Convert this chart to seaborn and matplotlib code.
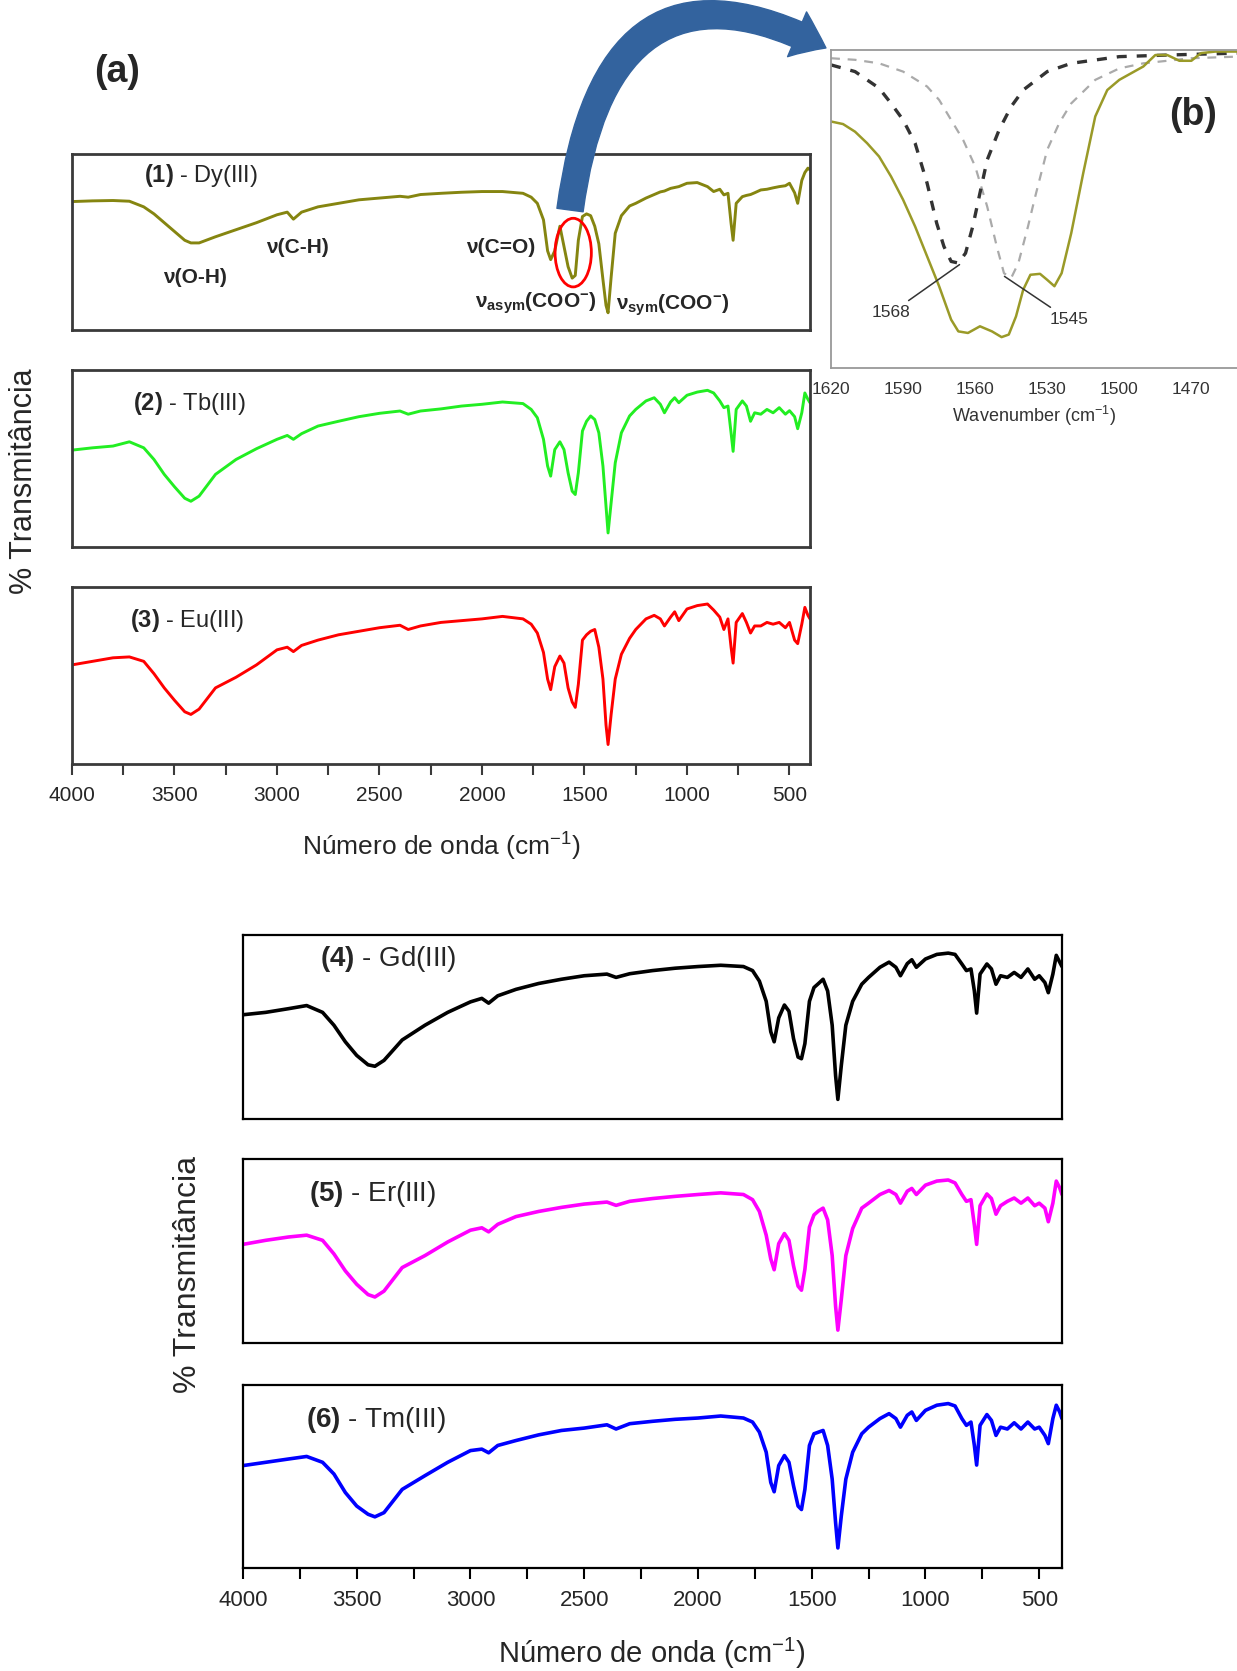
import matplotlib
matplotlib.use("Agg")
import matplotlib.pyplot as plt
import matplotlib.patches as mpatches
from matplotlib.path import Path
from matplotlib.ticker import MultipleLocator
import seaborn as sns

# DATA (transmittance as % of panel height)

WAVENUMBER = [
    4000, 3900, 3800, 3720, 3650, 3600, 3550, 3500, 3450, 3420,
    3380, 3300, 3200, 3100, 3000, 2950, 2920, 2880, 2800, 2700,
    2600, 2500, 2400, 2360, 2300, 2200, 2100, 2000, 1900, 1800,
    1760, 1730, 1700, 1680, 1665, 1645, 1620, 1600, 1580, 1560,
    1545, 1530, 1510, 1490, 1470, 1450, 1430, 1410, 1395, 1385,
    1370, 1350, 1320, 1280, 1250, 1200, 1160, 1130, 1110, 1080,
    1060, 1040, 1000, 950, 900, 870, 840, 820, 800, 785,
    775, 760, 730, 710, 690, 670, 640, 610, 580, 550,
    520, 500, 475, 460, 440, 425, 410, 400,
]

DY = [
    73, 73.4, 73.6, 73.2, 70, 66, 61, 56, 51, 49.5,
    49.5, 53, 57, 61, 65.5, 67, 63, 67, 70, 72,
    74, 75, 76, 75.5, 77, 77.7, 78.3, 78.7, 78.7, 77.7,
    75.5, 72, 62.6, 45, 40, 45, 59, 47.5, 36, 29.5,
    31, 51, 64.5, 66, 65, 59, 49, 28.7, 14, 9.8,
    30, 55, 65, 70.5, 72, 75, 77, 78.5, 79, 80.5,
    81, 81.5, 83.4, 83.8, 81.5, 78.7, 80, 76.8, 77.7, 60.7,
    51, 72, 75.8, 76.5, 77, 78, 79.6, 80, 80.8, 81.5,
    82, 83.4, 78, 72, 85, 89.5, 92, 91,
]

TB = [
    54.7, 56, 57, 59.4, 56, 49.4, 41, 34, 27.5, 25.8,
    28.7, 41, 49.4, 55.5, 60.8, 63, 60.8, 64, 68.3, 71,
    73.6, 75.5, 76.8, 75, 76.8, 78, 79.6, 80.6, 81.9, 81,
    77.7, 73, 60.8, 45.7, 40, 55, 59.4, 55, 41.9, 31.5,
    29.6, 41.9, 65.5, 71, 74, 72, 64.5, 45.7, 23, 7.9,
    25, 47.5, 64.5, 74, 77.7, 82.5, 84.3, 80.6, 75.8, 81.9,
    84.3, 81.5, 85.7, 87.5, 88.5, 87, 82.5, 78.7, 79.6, 64.5,
    54, 77.7, 82.5, 79.6, 71, 75.8, 75, 77.7, 75.8, 78.7,
    75, 77, 73.6, 66.8, 75.8, 87, 83.4, 81.5,
]

EU = [
    56, 58, 60, 60.5, 58, 51, 43, 36, 29.5, 28,
    31, 43, 49, 56, 64.5, 66, 63.5, 67, 70, 73,
    75, 77, 78.4, 76, 78, 80, 81, 82, 83.4, 82,
    79, 74, 63, 48, 42, 55, 61, 57, 43, 35,
    32, 45, 70, 73, 75, 76, 66, 48, 22, 11,
    28, 48, 62, 71, 76, 82, 84, 82, 78, 83,
    86, 81, 87.6, 89.5, 90.4, 87, 83, 76, 82, 66,
    57, 80, 85, 80, 74, 78, 78, 80, 79, 80,
    77, 80, 70, 68, 79, 88.5, 84, 82,
]

GD = [
    56.7, 58, 60, 61.7, 58, 51, 42, 34.6, 29.5, 28.7,
    31.9, 43, 51, 58, 63.7, 65.6, 63, 67, 70.5, 73.7,
    76, 77.9, 78.8, 77, 79, 80.7, 82, 82.9, 83.6, 82.9,
    80.7, 75, 64, 47.5, 42, 55, 62, 58.6, 43.8, 33.7,
    32.8, 41, 64, 71.5, 73.7, 76, 69.6, 51, 23.6, 10.7,
    29, 51, 64, 73.3, 77, 82.5, 85.3, 82.5, 77.9, 84.5,
    86.6, 82.5, 87, 89.5, 90.2, 89.5, 84.3, 80.7, 81.6, 69.6,
    57.6, 78.8, 84.3, 81.6, 73.3, 77.9, 77, 79.7, 77, 81.6,
    76, 77.9, 74.2, 68.7, 78.8, 89, 85.3, 82.9,
]

ER = [
    53.6, 55.8, 57.6, 58.6, 55.8, 48.4, 39.2, 31.9, 26.3, 25,
    28.2, 41, 47.5, 54.9, 61.3, 62.6, 60.4, 64.5, 68.7, 71.5,
    73.7, 75.5, 76.6, 74.8, 77, 78.5, 79.7, 80.7, 81.6, 80.7,
    77.9, 71.5, 58.6, 45.7, 39.8, 54, 59.5, 55.8, 42, 30.9,
    28.7, 40, 63, 69.6, 71.8, 73.3, 66.9, 47.5, 19.9, 7,
    23.6, 47.5, 62.2, 73.3, 76, 80.7, 82.9, 80.7, 76, 82.5,
    84, 80.7, 85.8, 88, 88.6, 87, 80.7, 77, 77.9, 64,
    53.6, 74.6, 81, 78.5, 70, 74.6, 77, 78.8, 76, 78.8,
    74.6, 76, 73.3, 65.9, 76, 88, 84.3, 80.7,
]

TM = [
    56, 57.8, 59.6, 61, 57.8, 51.4, 41.3, 33.9, 29.4, 28,
    30.3, 43, 50.5, 57.8, 64.2, 65, 63, 67, 69.7, 72.8,
    75.2, 76.5, 78.3, 76, 78.9, 80.2, 81.3, 82, 83.1, 82,
    79.8, 74.3, 63.3, 46.8, 41.7, 56, 61.5, 57.8, 45, 33.9,
    32, 43, 67, 73.4, 74.3, 75.2, 67, 48.6, 24.8, 11,
    28.4, 48.6, 63.3, 73.4, 77, 81.7, 84.4, 81.7, 77, 83.5,
    85.3, 80.7, 86.2, 89, 89.9, 88.6, 81.7, 78, 79.8, 67,
    56.3, 78, 83.9, 80.7, 72.5, 77, 76, 79.4, 76, 79.8,
    76, 77, 72.5, 68, 81.7, 89, 85.3, 81.7,
]

# inset (b): zoom on the COO- band of Dy(III), fraction of inset height
INSET_WN = [
    1620, 1615, 1610, 1605, 1600, 1595, 1590, 1585, 1580, 1575,
    1570, 1567, 1563, 1558, 1553, 1549, 1546, 1543, 1540, 1537,
    1533, 1530, 1527, 1524, 1520, 1515, 1510, 1505, 1500, 1495,
    1490, 1485, 1480, 1475, 1470, 1466, 1460, 1451,
]
INSET_DY = [
    0.775, 0.767, 0.743, 0.707, 0.665, 0.602, 0.529, 0.445, 0.351, 0.257,
    0.152, 0.115, 0.11, 0.131, 0.115, 0.097, 0.105, 0.162, 0.246, 0.293,
    0.296, 0.277, 0.257, 0.298, 0.424, 0.613, 0.791, 0.874, 0.906, 0.927,
    0.948, 0.984, 0.984, 0.966, 0.966, 0.99, 0.995, 0.995,
]

FIT1_WN = [1620, 1610, 1600, 1595, 1590, 1585, 1580, 1576, 1573, 1570, 1567, 1564,
           1561, 1558, 1555, 1550, 1545, 1540, 1530, 1520, 1500, 1480, 1451]
FIT1 = [0.953, 0.932, 0.88, 0.832, 0.78, 0.707, 0.581, 0.455, 0.382, 0.335, 0.33, 0.361,
        0.445, 0.55, 0.654, 0.749, 0.822, 0.874, 0.932, 0.958, 0.979, 0.984, 0.99]

FIT2_WN = [1620, 1610, 1600, 1590, 1580, 1575, 1570, 1565, 1560, 1555, 1551, 1548,
           1545, 1542, 1538, 1535, 1530, 1525, 1520, 1510, 1500, 1490, 1470, 1451]
FIT2 = [0.974, 0.969, 0.958, 0.932, 0.885, 0.843, 0.78, 0.717, 0.634, 0.508, 0.382, 0.298,
        0.283, 0.33, 0.445, 0.539, 0.686, 0.77, 0.832, 0.906, 0.942, 0.958, 0.974, 0.979]

PEAKS = [1568, 1545]

# FIGURE

sns.set_style("white")
plt.rcParams["font.family"] = ["Liberation Sans", "DejaVu Sans"]
plt.rcParams["mathtext.fontset"] = "custom"
plt.rcParams["mathtext.rm"] = "Liberation Sans"
plt.rcParams["mathtext.bf"] = "Liberation Sans:bold"
plt.rcParams["mathtext.it"] = "Liberation Sans:italic"

fig = plt.figure(figsize=(12.37, 16.71), dpi=100)


def spectrum_panel(rect, values, color, label, label_pos, lw, frame, frame_lw,
                   label_size, with_ticks=False, tick_size=15):
    ax = fig.add_axes(rect)
    sns.lineplot(x=WAVENUMBER, y=values, ax=ax, color=color, linewidth=lw,
                 estimator=None, sort=False)
    ax.set_xlim(4000, 400)
    ax.set_ylim(0, 100)
    ax.set_xlabel("")
    ax.set_ylabel("")
    ax.set_yticks([])
    for s in ax.spines.values():
        s.set_color(frame)
        s.set_linewidth(frame_lw)
    if with_ticks:
        ax.xaxis.set_major_locator(MultipleLocator(500))
        ax.xaxis.set_minor_locator(MultipleLocator(250))
        ax.tick_params(axis="x", which="both", direction="out", length=8,
                       width=1.5, color=frame, labelsize=tick_size, pad=8,
                       bottom=True)
    else:
        ax.set_xticks([])
    ax.text(label_pos[0], label_pos[1], label, transform=ax.transAxes,
            fontsize=label_size, va="center", ha="left")
    return ax


top_frame = "#3a3a3a"
ax1 = spectrum_panel([0.0582, 0.8025, 0.5966, 0.1053], DY, "#858510",
                     r"$\mathbf{(1)}$ - Dy(III)", (0.097, 0.88), 2.1,
                     top_frame, 2.0, 17)
ax2 = spectrum_panel([0.0582, 0.6727, 0.5966, 0.1059], TB, "#22ee22",
                     r"$\mathbf{(2)}$ - Tb(III)", (0.082, 0.81), 2.1,
                     top_frame, 2.0, 17)
ax3 = spectrum_panel([0.0582, 0.5428, 0.5966, 0.1059], EU, "#ff0000",
                     r"$\mathbf{(3)}$ - Eu(III)", (0.078, 0.81), 2.1,
                     top_frame, 2.0, 17, with_ticks=True, tick_size=15)

ax4 = spectrum_panel([0.1964, 0.3303, 0.6621, 0.1101], GD, "black",
                     r"$\mathbf{(4)}$ - Gd(III)", (0.094, 0.87), 2.6,
                     "black", 1.6, 20)
ax5 = spectrum_panel([0.1964, 0.1963, 0.6621, 0.1101], ER, "#ff00ff",
                     r"$\mathbf{(5)}$ - Er(III)", (0.081, 0.81), 2.6,
                     "black", 1.6, 20)
ax6 = spectrum_panel([0.1964, 0.0616, 0.6621, 0.1095], TM, "#0000ff",
                     r"$\mathbf{(6)}$ - Tm(III)", (0.077, 0.81), 2.6,
                     "black", 1.6, 20, with_ticks=True, tick_size=16)

# band assignments on Dy(III)
band_kw = dict(fontsize=15, fontweight="bold", ha="center", va="center")
ax1.text(3402, 30, "ν(O-H)", **band_kw)
ax1.text(2902, 47, "ν(C-H)", **band_kw)
ax1.text(1909, 47, "ν(C=O)", **band_kw)
ax1.text(1737, 15, r"ν$_{\mathbf{asym}}$(COO$^{\mathbf{-}}$)", **band_kw)
ax1.text(1071, 14, r"ν$_{\mathbf{sym}}$(COO$^{\mathbf{-}}$)", **band_kw)
ax1.add_patch(mpatches.Ellipse((1555, 44), width=177, height=39, fill=False,
                               ec="red", lw=2.0, zorder=5))

# inset (b)
axb = fig.add_axes([0.6718, 0.7798, 0.3282, 0.1903])
sns.lineplot(x=FIT2_WN, y=FIT2, ax=axb, color="#aaaaaa", linewidth=1.6,
             linestyle=(0, (4, 3.5)), estimator=None, sort=False)
sns.lineplot(x=FIT1_WN, y=FIT1, ax=axb, color="#333333", linewidth=2.4,
             linestyle=(0, (3, 3)), estimator=None, sort=False)
sns.lineplot(x=INSET_WN, y=INSET_DY, ax=axb, color="#9a9a28", linewidth=1.8,
             estimator=None, sort=False)
axb.set_xlim(1620, 1451)
axb.set_ylim(0, 1)
axb.set_yticks([])
axb.set_xticks([1620, 1590, 1560, 1530, 1500, 1470])
axb.xaxis.set_minor_locator(MultipleLocator(15))
axb.tick_params(axis="x", which="both", direction="out", length=6, width=1.1,
                color="#888888", labelsize=12.5, labelcolor="#333333", pad=4)
axb.spines["right"].set_visible(False)
for side in ["top", "left", "bottom"]:
    axb.spines[side].set_color("#999999")
    axb.spines[side].set_linewidth(1.3)
axb.set_xlabel(r"Wavenumber (cm$^{\mathrm{-1}}$)", fontsize=13, color="#333333",
               labelpad=5)
axb.set_ylabel("")
ann_kw = dict(fontsize=12.5, color="#333333", ha="center", va="center",
              arrowprops=dict(arrowstyle="-", color="#333333", lw=1.1,
                              shrinkA=2, shrinkB=0))
axb.annotate(str(PEAKS[0]), xy=(1566.5, 0.325), xytext=(1595, 0.173), **ann_kw)
axb.annotate(str(PEAKS[1]), xy=(1547.8, 0.288), xytext=(1521, 0.152), **ann_kw)

# curved arrow from the COO- band to the inset
verts = [(0.4608, 0.8743), (0.4907, 1.0395), (0.6677, 0.9713)]
arrow = mpatches.FancyArrowPatch(
    path=Path(verts, [Path.MOVETO, Path.CURVE3, Path.CURVE3]),
    arrowstyle=mpatches.ArrowStyle.Simple(head_length=1.15, head_width=1.75,
                                          tail_width=0.95),
    mutation_scale=20, color="#33639e", transform=fig.transFigure,
    clip_on=False, zorder=10)
fig.add_artist(arrow)

# figure texts
fig.text(0.0946, 0.957, "(a)", fontsize=27, fontweight="bold",
         ha="center", va="center")
fig.text(0.9644, 0.931, "(b)", fontsize=27, fontweight="bold",
         ha="center", va="center")
fig.text(0.019, 0.7118, "% Transmitância", rotation=90, fontsize=22,
         ha="center", va="center")
fig.text(0.1516, 0.2374, "% Transmitância", rotation=90, fontsize=23,
         ha="center", va="center")
fig.text(0.3573, 0.4931, r"Número de onda (cm$^{\mathrm{-1}}$)", fontsize=19,
         ha="center", va="center")
fig.text(0.527, 0.0105, r"Número de onda (cm$^{\mathrm{-1}}$)", fontsize=21,
         ha="center", va="center")

fig.savefig("out.png", dpi=100)
